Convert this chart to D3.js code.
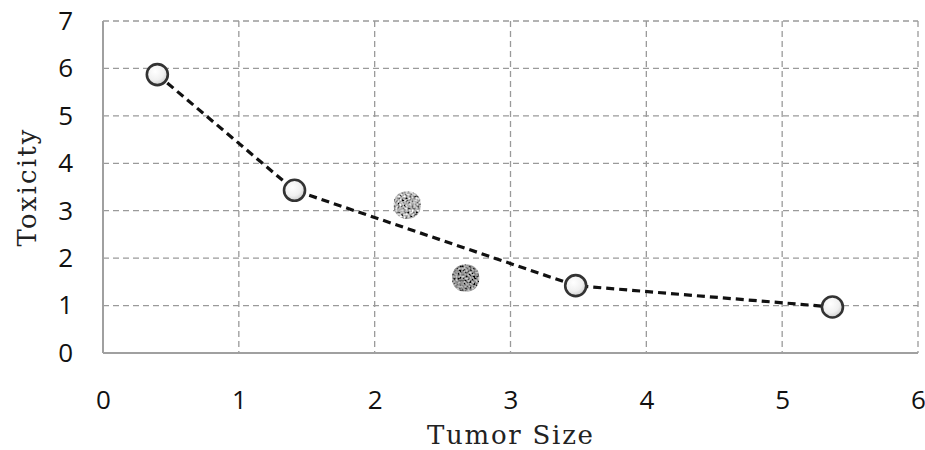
<!DOCTYPE html>
<html><head><meta charset="utf-8">
<script src="https://cdn.jsdelivr.net/npm/d3@7"></script>
<style>body{margin:0;background:#fff}</style>
</head><body><svg id="c" width="925" height="450"></svg>
<script>
const xTicks = [0,1,2,3,4,5,6];
const yTicks = [0,1,2,3,4,5,6,7];
const curveX = [0.40, 1.41, 3.48, 5.37];
const curveY = [5.87, 3.43, 1.42, 0.97];
const pointsX = [2.24, 2.67];
const pointsY = [3.12, 1.58];
const pointShade = ["light", "dark"];

const svg = d3.select("#c");
const L = 103, R = 918, T = 21, B = 353;
const x = d3.scaleLinear().domain([0,6]).range([L,R]);
const y = d3.scaleLinear().domain([0,7]).range([B,T]);

const defs = svg.append("defs");
const g = defs.append("radialGradient").attr("id","wg").attr("cx","40%").attr("cy","35%").attr("r","70%");
g.append("stop").attr("offset","0%").attr("stop-color","#ffffff");
g.append("stop").attr("offset","60%").attr("stop-color","#f0f0f0");
g.append("stop").attr("offset","100%").attr("stop-color","#c8c8c8");

function noiseFilter(id, slope, intercept, seed){
  const f = defs.append("filter").attr("id",id).attr("x","0").attr("y","0").attr("width","100%").attr("height","100%");
  f.append("feTurbulence").attr("type","fractalNoise").attr("baseFrequency","0.5").attr("numOctaves","2").attr("seed",seed).attr("result","n");
  f.append("feColorMatrix").attr("in","n").attr("type","matrix")
   .attr("values","0.33 0.33 0.33 0 0  0.33 0.33 0.33 0 0  0.33 0.33 0.33 0 0  0 0 0 0 1").attr("result","g");
  const ct = f.append("feComponentTransfer").attr("in","g").attr("result","c");
  ["R","G","B"].forEach(ch=>ct.append("feFunc"+ch).attr("type","linear").attr("slope",slope).attr("intercept",intercept));
  f.append("feComposite").attr("in","c").attr("in2","SourceGraphic").attr("operator","in");
}
noiseFilter("nlight", 3.4, -1.25, 3);
noiseFilter("ndark", 2.6, -1.0, 7);

// grid
const grid = svg.append("g");
grid.selectAll(".gx").data(xTicks.filter(d=>d>0)).join("line")
  .attr("x1",d=>x(d)).attr("x2",d=>x(d)).attr("y1",T).attr("y2",B)
  .attr("stroke","#9a9a9a").attr("stroke-width",1.3).attr("stroke-dasharray","6,4");
grid.selectAll(".gy").data(yTicks.filter(d=>d>0)).join("line")
  .attr("x1",L).attr("x2",R).attr("y1",d=>y(d)).attr("y2",d=>y(d))
  .attr("stroke","#9a9a9a").attr("stroke-width",1.3).attr("stroke-dasharray","6,4");

// axes
const xa = svg.append("g").attr("transform",`translate(0,${B})`)
  .call(d3.axisBottom(x).tickValues(xTicks).tickSize(0).tickPadding(38).tickFormat(d3.format("d")));
const ya = svg.append("g").attr("transform",`translate(${L},0)`)
  .call(d3.axisLeft(y).tickValues(yTicks).tickSize(0).tickPadding(30).tickFormat(d3.format("d")));
[xa,ya].forEach(a=>{
  a.select(".domain").attr("stroke","#a0a0a0").attr("stroke-width",2);
  a.selectAll("text").attr("font-family","'Open Sans', sans-serif").attr("font-size",26).attr("fill","#111");
});
xa.select(".domain").attr("d",`M${L},0H${R}`);
ya.select(".domain").attr("d",`M0,${T}V${B}`);

// titles
svg.append("text").attr("x",510).attr("y",444).attr("text-anchor","middle")
  .attr("font-family","'DejaVu Serif', serif").attr("font-size",26).attr("fill","#222")
  .attr("textLength",166).attr("lengthAdjust","spacing").text("Tumor Size");
svg.append("text").attr("transform",`translate(36,188) rotate(-90)`).attr("text-anchor","middle")
  .attr("font-family","'DejaVu Serif', serif").attr("font-size",26).attr("fill","#222")
  .attr("textLength",117).attr("lengthAdjust","spacing").text("Toxicity");

// textured points
svg.selectAll(".tp").data(pointsX.map((v,i)=>({x:v,y:pointsY[i],s:pointShade[i]}))).join("rect")
  .attr("x",d=>x(d.x)-13.5).attr("y",d=>y(d.y)-13.5).attr("width",27).attr("height",27).attr("rx",12)
  .attr("fill","#888").attr("filter",d=>d.s==="light"?"url(#nlight)":"url(#ndark)");

// dashed curve
const data = curveX.map((v,i)=>({x:v,y:curveY[i]}));
svg.append("path").datum(data)
  .attr("d",d3.line().x(d=>x(d.x)).y(d=>y(d.y)))
  .attr("fill","none").attr("stroke","#111").attr("stroke-width",3.2).attr("stroke-dasharray","8,5");
svg.selectAll(".cp").data(data).join("circle")
  .attr("cx",d=>x(d.x)).attr("cy",d=>y(d.y)).attr("r",10.5)
  .attr("fill","url(#wg)").attr("stroke","#333").attr("stroke-width",2.6);
</script></body></html>
